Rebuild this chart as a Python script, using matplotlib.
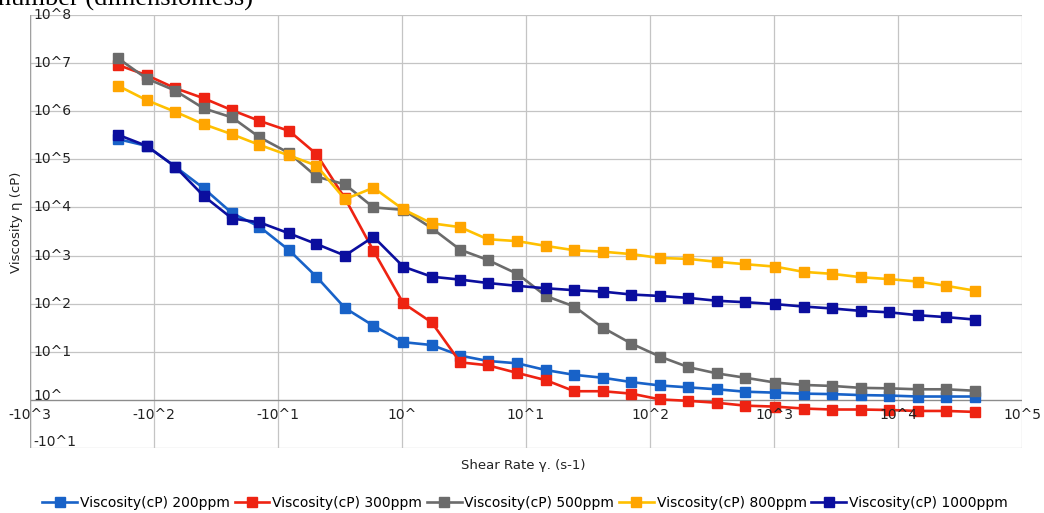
import numpy as np
import matplotlib.pyplot as plt

# x positions in decades on the chart's own (odd) axis
shear_pos = [-2.29, -2.06, -1.83, -1.60, -1.37, -1.15, -0.91, -0.69, -0.46, -0.23,
             0.01, 0.24, 0.47, 0.69, 0.93, 1.16, 1.39, 1.62, 1.85, 2.08,
             2.31, 2.54, 2.77, 3.01, 3.24, 3.47, 3.70, 3.93, 4.16, 4.39, 4.62]

# log10 of viscosity (cP) for each concentration
visc_200 = [5.42, 5.28, 4.85, 4.40, 3.88, 3.60, 3.11, 2.56, 1.91, 1.54,
            1.20, 1.14, 0.92, 0.81, 0.76, 0.62, 0.52, 0.46, 0.37, 0.30,
            0.26, 0.22, 0.17, 0.15, 0.13, 0.12, 0.10, 0.09, 0.07, 0.07, 0.07]
visc_300 = [6.96, 6.75, 6.48, 6.27, 6.02, 5.80, 5.59, 5.11, 4.19, 3.10,
            2.01, 1.61, 0.78, 0.72, 0.56, 0.41, 0.18, 0.18, 0.13, 0.01,
            -0.02, -0.06, -0.12, -0.14, -0.18, -0.20, -0.20, -0.21, -0.23, -0.23, -0.25]
visc_500 = [7.10, 6.68, 6.43, 6.06, 5.87, 5.46, 5.13, 4.64, 4.48, 4.00,
            3.95, 3.57, 3.12, 2.91, 2.62, 2.16, 1.94, 1.50, 1.17, 0.90,
            0.68, 0.55, 0.46, 0.36, 0.31, 0.29, 0.25, 0.24, 0.22, 0.22, 0.19]
visc_800 = [6.53, 6.23, 5.99, 5.73, 5.52, 5.30, 5.08, 4.87, 4.17, 4.41,
            3.96, 3.67, 3.59, 3.34, 3.30, 3.20, 3.11, 3.08, 3.03, 2.95,
            2.93, 2.87, 2.82, 2.77, 2.66, 2.62, 2.55, 2.51, 2.46, 2.37, 2.27]
visc_1000 = [5.51, 5.28, 4.85, 4.24, 3.77, 3.69, 3.46, 3.24, 3.00, 3.39,
             2.77, 2.56, 2.50, 2.43, 2.37, 2.32, 2.28, 2.25, 2.19, 2.16,
             2.12, 2.06, 2.03, 1.99, 1.94, 1.90, 1.85, 1.82, 1.76, 1.72, 1.67]

labels = ['Viscosity(cP) 200ppm', 'Viscosity(cP) 300ppm', 'Viscosity(cP) 500ppm',
          'Viscosity(cP) 800ppm', 'Viscosity(cP) 1000ppm']

x_ticks = [-3, -2, -1, 0, 1, 2, 3, 4, 5]
x_ticklabels = ['-10^3', '-10^2', '-10^1', '10^', '10^1', '10^2', '10^3', '10^4', '10^5']
y_ticks = [-1, 0, 1, 2, 3, 4, 5, 6, 7, 8]
y_ticklabels = ['-10^1', '10^', '10^1', '10^2', '10^3', '10^4', '10^5', '10^6', '10^7', '10^8']

line_colors = ['#1862C8', '#EE2312', '#6B6B6B', '#FFC000', '#0B0E9E']
marker_colors = ['#1862C8', '#EE2312', '#6B6B6B', '#FFA500', '#0B0E9E']

fig = plt.figure(figsize=(10.44, 5.13), dpi=100)
ax = fig.add_axes([30 / 1044, 1 - 448 / 513, (1022 - 30) / 1044, (448 - 15) / 513])

ax.set_xlim(-3, 5)
ax.set_ylim(-1, 8)

# grid
for xv in x_ticks:
    ax.axvline(xv, color='#C4C4C4', lw=0.9, zorder=0)
for yv in y_ticks:
    ax.axhline(yv, color='#C4C4C4', lw=0.9, zorder=0)
ax.axhline(0, color='#8C8C8C', lw=0.9, zorder=1)
ax.axvline(-3, color='#A0A0A0', lw=1.0, zorder=1)

for sp in ax.spines.values():
    sp.set_visible(False)
ax.set_xticks([])
ax.set_yticks([])

series = [visc_200, visc_300, visc_500, visc_800, visc_1000]
for vals, lab, lc, mc in zip(series, labels, line_colors, marker_colors):
    ax.plot(shear_pos, vals, color=lc, lw=1.9, marker='s', markersize=6.8,
            markerfacecolor=mc, markeredgecolor=mc, label=lab, zorder=3)

# tick labels drawn as text (Excel style)
for xv, t in zip(x_ticks, x_ticklabels):
    ax.text(xv, -0.32, t, ha='center', va='center', fontsize=10, color='#222222')
for yv, t in zip(y_ticks, y_ticklabels):
    dy = 0.09 if yv == 0 else (0.12 if yv == -1 else 0)
    ax.text(-2.975, yv + dy, t, ha='left', va='center', fontsize=10, color='#222222')

fig.text(17 / 1044, 1 - 222 / 513, 'Viscosity η (cP)', rotation=90, ha='center', va='center',
         fontsize=9.5, color='#222222')
fig.text(523 / 1044, 1 - 465 / 513, 'Shear Rate γ. (s-1)', ha='center', va='center',
         fontsize=9.5, color='#222222')

# leftover caption from the page above, cut off at the top
fig.text(-0.002, 1 - 6 / 513, 'number (dimensionless)', ha='left', va='baseline',
         fontsize=19, family='Liberation Serif', color='black')

fig.legend(loc='center', bbox_to_anchor=(525 / 1044, 1 - 503 / 513), ncol=5, frameon=False,
           fontsize=10, handlelength=2.5, handletextpad=0.2, columnspacing=0.35)

fig.savefig('out.png', dpi=100)
